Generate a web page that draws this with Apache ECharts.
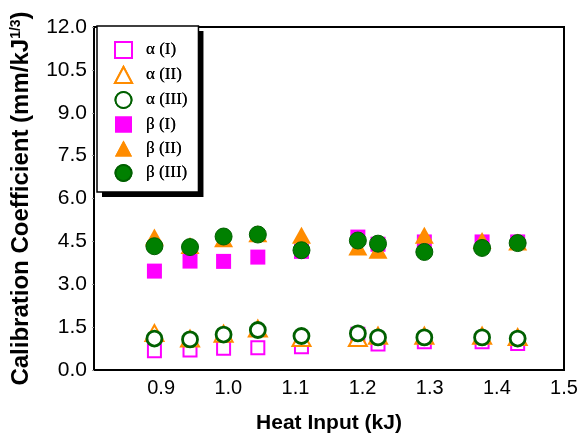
<!DOCTYPE html>
<html><head><meta charset="utf-8">
<script src="https://cdn.jsdelivr.net/npm/echarts@6/dist/echarts.min.js"></script>
<style>html,body{margin:0;padding:0;background:#fff}#c{width:582px;height:441px}</style>
</head><body><div id="c"></div>
<script>
const heatInput = [0.89, 0.943, 0.993, 1.044, 1.109, 1.193, 1.223, 1.292, 1.378, 1.431];
const alphaI   = [0.67, 0.70, 0.76, 0.78, 0.81, 1.25, 0.91, 0.99, 0.99, 0.93];
const alphaII  = [1.29, 1.10, 1.27, 1.45, 1.12, 1.12, 1.20, 1.20, 1.20, 1.15];
const alphaIII = [1.10, 1.07, 1.24, 1.40, 1.19, 1.28, 1.14, 1.14, 1.14, 1.10];
const betaI    = [3.46, 3.81, 3.80, 3.95, 4.15, 4.65, 4.40, 4.48, 4.48, 4.48];
const betaII   = [4.65, 4.36, 4.59, 4.77, 4.71, 4.30, 4.19, 4.71, 4.53, 4.48];
const betaIII  = [4.33, 4.30, 4.67, 4.74, 4.19, 4.53, 4.42, 4.13, 4.27, 4.44];
const seriesNames = ['α (I)', 'α (II)', 'α (III)', 'β (I)', 'β (II)', 'β (III)'];
const xTicks = [0.9, 1.0, 1.1, 1.2, 1.3, 1.4, 1.5];
const yTicks = [0, 1.5, 3, 4.5, 6, 7.5, 9, 10.5, 12];

const MAG = '#ff00ff', ORA = '#ff8c00', GRN = '#008000', DGRN = '#006000';
const pts = arr => arr.map((v, i) => [heatInput[i], v]);

const styles = [
  {symbol: 'rect', size: 13, item: {color: '#fff', borderColor: MAG, borderWidth: 2}},
  {symbol: 'triangle', size: [18, 16], item: {color: '#fff', borderColor: ORA, borderWidth: 2}},
  {symbol: 'circle', size: 15, item: {color: '#fff', borderColor: DGRN, borderWidth: 2.8}},
  {symbol: 'rect', size: 15, item: {color: MAG}},
  {symbol: 'triangle', size: [19, 17], item: {color: ORA}},
  {symbol: 'circle', size: 17, item: {color: GRN, borderColor: DGRN, borderWidth: 1}}
];
const datasets = [alphaI, alphaII, alphaIII, betaI, betaII, betaIII];

const legendBase = {
  orient: 'vertical', left: 97, top: 26,
  padding: [15, 11, 10, 17],
  itemWidth: 17, itemHeight: 16, itemGap: 7,
  textStyle: {fontFamily: 'Liberation Serif', fontSize: 17, color: '#000', padding: [0, 0, 0, 9]},
  data: seriesNames
};

const chart = echarts.init(document.getElementById('c'), null, {renderer: 'canvas'});
chart.setOption({
  animation: false,
  backgroundColor: '#fff',
  grid: {left: 94, right: 18, top: 27, bottom: 71, show: true, borderColor: '#000', borderWidth: 2, backgroundColor: 'transparent'},
  legend: [
    Object.assign({}, legendBase, {
      backgroundColor: '#fff', borderWidth: 0,
      shadowColor: '#000', shadowBlur: 0, shadowOffsetX: 5, shadowOffsetY: 5
    }),
    Object.assign({}, legendBase, {
      backgroundColor: 'transparent', borderColor: '#000', borderWidth: 1.5
    })
  ],
  xAxis: {
    type: 'value', min: 0.8, max: 1.5, interval: 0.1,
    axisLine: {show: true, lineStyle: {color: '#000', width: 2}},
    axisTick: {show: false},
    splitLine: {show: false},
    axisLabel: {
      fontFamily: 'Liberation Sans', fontSize: 20, color: '#000', margin: 8,
      formatter: v => { const t = xTicks.find(k => Math.abs(k - v) < 1e-6); return t === undefined ? '' : t.toFixed(1); }
    },
    name: 'Heat Input (kJ)', nameLocation: 'middle', nameGap: 43,
    nameTextStyle: {fontFamily: 'Liberation Sans', fontSize: 21, fontWeight: 'bold', color: '#000'}
  },
  yAxis: {
    type: 'value', min: 0, max: 12, interval: 1.5,
    axisLine: {show: true, lineStyle: {color: '#000', width: 2}},
    axisTick: {show: true, length: 2, inside: false, lineStyle: {color: '#999'}},
    splitLine: {show: false},
    axisLabel: {
      fontFamily: 'Liberation Sans', fontSize: 21, color: '#000', margin: 7,
      formatter: v => { const t = yTicks.find(k => Math.abs(k - v) < 1e-6); return t === undefined ? '' : t.toFixed(1); }
    },
    name: '{a|Calibration Coefficient (mm/kJ}{s|1/3}{a|)}', nameLocation: 'middle', nameGap: 61,
    nameTextStyle: {
      rich: {
        a: {fontFamily: 'Liberation Sans', fontSize: 24, fontWeight: 'bold', color: '#000'},
        s: {fontFamily: 'Liberation Sans', fontSize: 14, fontWeight: 'bold', color: '#000', verticalAlign: 'top', padding: [0, 0, 10, 0]}
      }
    }
  },
  series: datasets.map((d, i) => ({
    name: seriesNames[i], type: 'scatter', data: pts(d),
    symbol: styles[i].symbol, symbolSize: styles[i].size,
    itemStyle: Object.assign({opacity: 1}, styles[i].item),
    emphasis: {disabled: true}
  }))
});
</script></body></html>
